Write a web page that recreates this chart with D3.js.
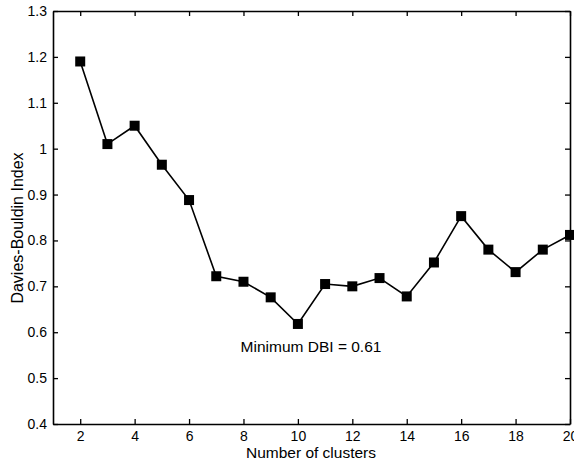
<!DOCTYPE html>
<html>
<head>
<meta charset="utf-8">
<script src="https://cdn.jsdelivr.net/npm/d3@7"></script>
<style>
  body { margin: 0; background: #fff; }
  svg { display: block; font-family: "Liberation Sans", Arial, sans-serif; }
</style>
</head>
<body>
<div id="canvas"></div>
<script>
"use strict"

/* data */
let clusters = [2, 3, 4, 5, 6, 7, 8, 9, 10, 11, 12, 13, 14, 15, 16, 17, 18, 19, 20]
let dbi = [1.19, 1.01, 1.05, 0.965, 0.888, 0.722, 0.71, 0.676, 0.618, 0.705, 0.70, 0.718, 0.678, 0.752, 0.853, 0.78, 0.731, 0.78, 0.812]
let xTicks = [2, 4, 6, 8, 10, 12, 14, 16, 18, 20]
let yTicks = [0.4, 0.5, 0.6, 0.7, 0.8, 0.9, 1, 1.1, 1.2, 1.3]

let svgWidth = 574
let svgHeight = 463
let margin = { top: 11, right: 4, bottom: 39, left: 53 }

let svg = d3.select("#canvas")
    .append("svg")
    .attr("width", svgWidth)
    .attr("height", svgHeight)

let xScale = d3.scaleLinear()
    .domain([1, 20])
    .range([margin.left, svgWidth - margin.right])

let yScale = d3.scaleLinear()
    .domain([0.4, 1.3])
    .range([svgHeight - margin.bottom, margin.top])

let tickLen = 5
let fmt = d => String(+d.toFixed(1))

/* bottom axis, ticks pointing inward */
svg.append("g")
    .attr("transform", "translate(0," + yScale(0.4) + ")")
    .call(d3.axisBottom(xScale).tickValues(xTicks).tickSizeInner(-tickLen).tickSizeOuter(0).tickPadding(7))
/* top axis, ticks inward, no labels */
svg.append("g")
    .attr("transform", "translate(0," + yScale(1.3) + ")")
    .call(d3.axisTop(xScale).tickValues(xTicks).tickSizeInner(-tickLen).tickSizeOuter(0).tickFormat(""))
/* left axis */
svg.append("g")
    .attr("transform", "translate(" + xScale(1) + ",0)")
    .call(d3.axisLeft(yScale).tickValues(yTicks).tickSizeInner(-tickLen).tickSizeOuter(0).tickPadding(6).tickFormat(fmt))
/* right axis */
svg.append("g")
    .attr("transform", "translate(" + xScale(20) + ",0)")
    .call(d3.axisRight(yScale).tickValues(yTicks).tickSizeInner(-tickLen).tickSizeOuter(0).tickFormat(""))

svg.selectAll(".domain").attr("stroke", "#000").attr("stroke-width", 1.6)
svg.selectAll(".tick line").attr("stroke", "#000").attr("stroke-width", 1.3)
svg.selectAll(".tick text")
    .attr("fill", "#000")
    .attr("font-size", "14px")
    .attr("font-family", "'Liberation Sans', Arial, sans-serif")

/* line + square markers */
let points = clusters.map((c, i) => [c, dbi[i]])

svg.append("path")
    .datum(points)
    .attr("fill", "none")
    .attr("stroke", "#000")
    .attr("stroke-width", 1.6)
    .attr("d", d3.line().x(d => xScale(d[0])).y(d => yScale(d[1])))

let markerSize = 10
svg.selectAll("rect.marker")
    .data(points)
    .join("rect")
    .attr("class", "marker")
    .attr("x", d => xScale(d[0]) - markerSize / 2)
    .attr("y", d => yScale(d[1]) - markerSize / 2)
    .attr("width", markerSize)
    .attr("height", markerSize)
    .attr("fill", "#000")

/* annotation */
svg.append("text")
    .attr("x", 311)
    .attr("y", 352)
    .attr("text-anchor", "middle")
    .attr("font-size", "15.5px")
    .attr("fill", "#000")
    .text("Minimum DBI = 0.61")

/* axis labels */
svg.append("text")
    .attr("x", 311)
    .attr("y", 458)
    .attr("text-anchor", "middle")
    .attr("font-size", "15.5px")
    .attr("fill", "#000")
    .text("Number of clusters")

svg.append("text")
    .attr("transform", "translate(23,228) rotate(-90)")
    .attr("text-anchor", "middle")
    .attr("font-size", "16px")
    .attr("fill", "#000")
    .text("Davies-Bouldin Index")
</script>
</body>
</html>
